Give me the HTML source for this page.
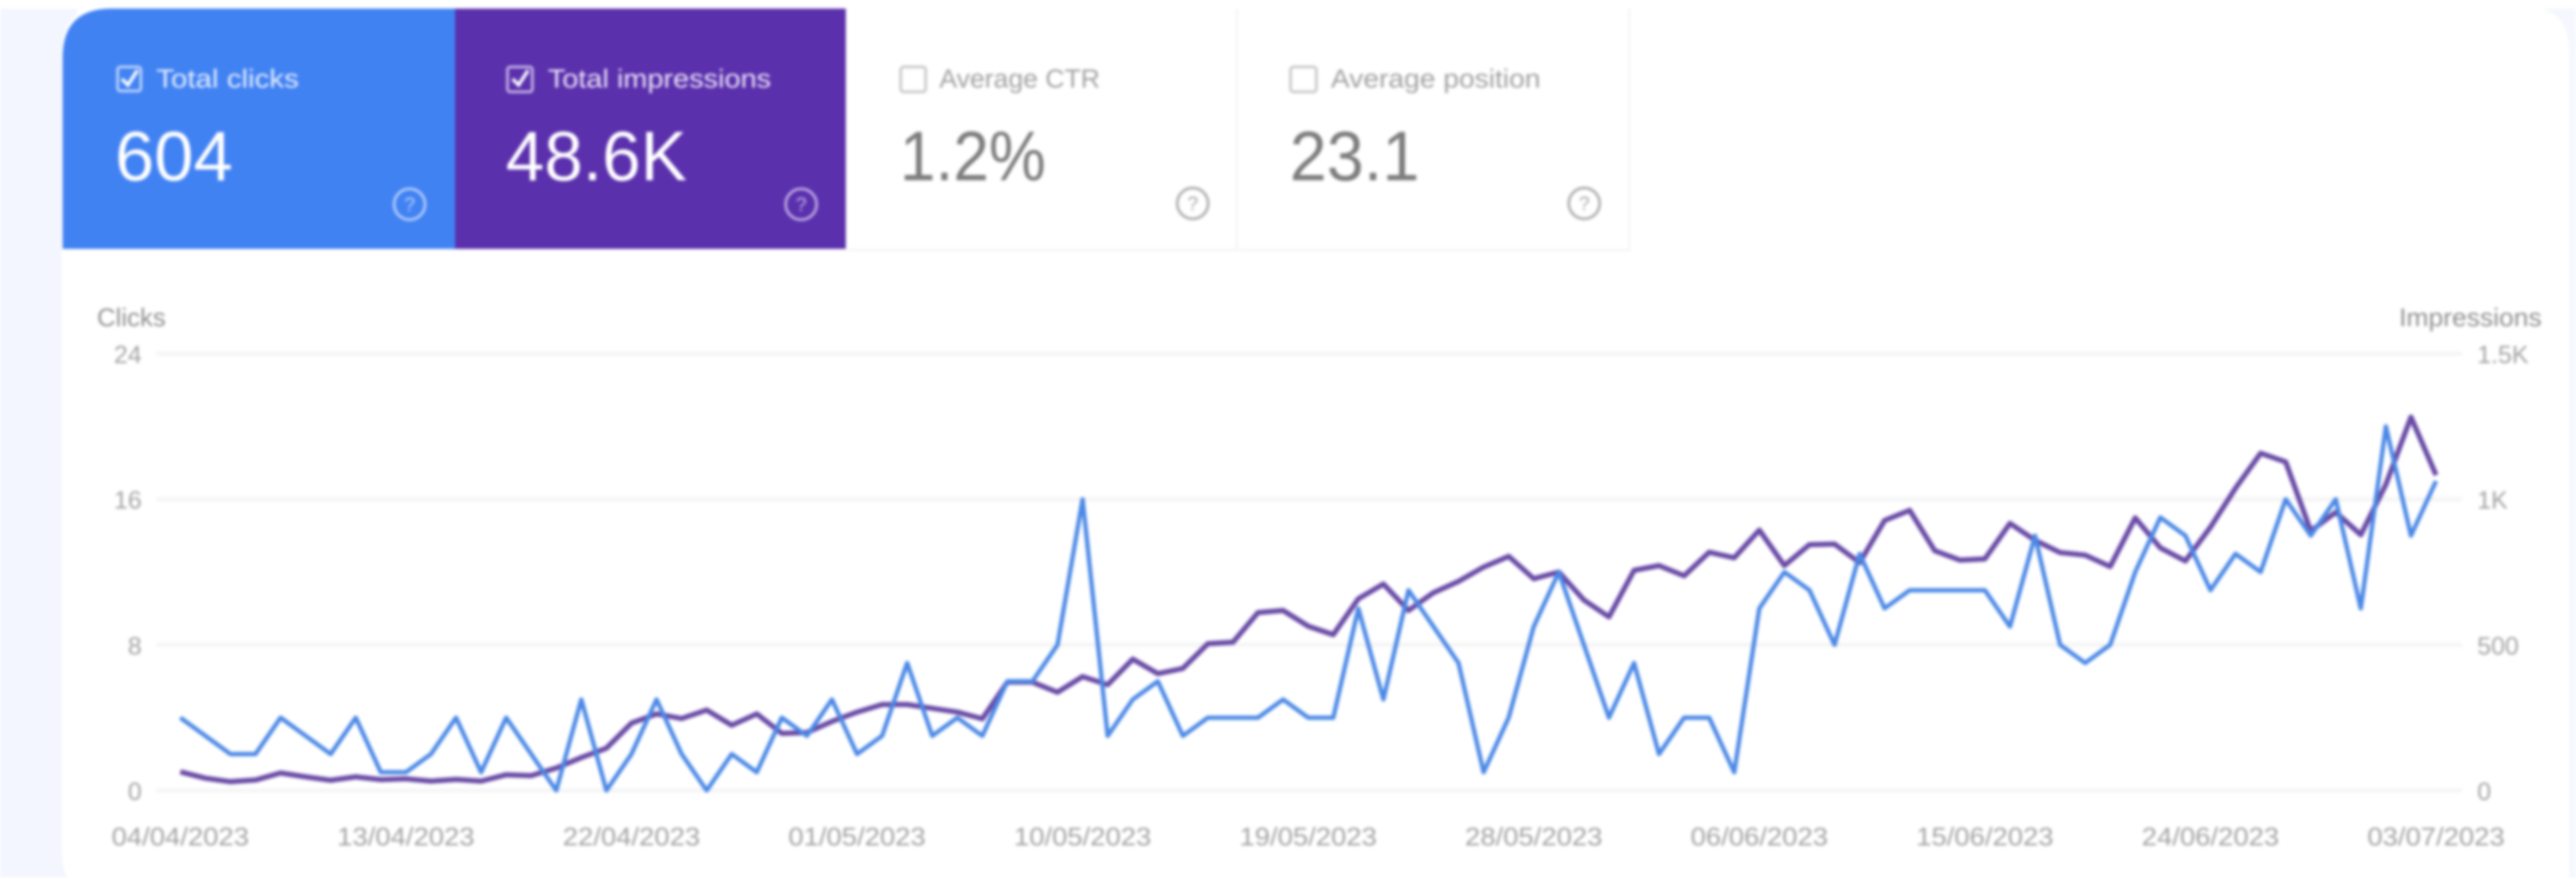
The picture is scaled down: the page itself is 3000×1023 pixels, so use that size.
<!DOCTYPE html>
<html lang="en">
<head>
<meta charset="utf-8">
<title>Search performance chart</title>
<style>
  html, body { margin: 0; padding: 0; background: #fff; }
  body { width: 3000px; height: 1023px; overflow: hidden; }
  svg { display: block; filter: blur(1.8px); font-family: "Liberation Sans", sans-serif; }
</style>
</head>
<body>
<svg id="chart" xmlns="http://www.w3.org/2000/svg" width="3000" height="1023" viewBox="0 0 3000 1023">
  <rect x="-10" y="-10" width="3020" height="1043" fill="#ffffff"/>
  <rect x="-10" y="10" width="100" height="1023" fill="#f3f6fe"/>
  <rect x="2950" y="10" width="60" height="1023" fill="#f5f7fe"/>
  <path d="M124 8 H2940 Q2992 8 2992 60 V1033 H96 Q72 1033 72 990 V60 Q72 8 124 8 Z" fill="#ffffff"/>

  <g>
    <path d="M130 10 H530 V290 H73 V67 Q73 10 130 10 Z" fill="#4182f3"/>
    <rect x="137" y="78" width="27" height="28" rx="3" fill="none" stroke="#c4d8fb" stroke-width="3"/>
    <path d="M142 92 L149 99 L160 82" fill="none" stroke="#ffffff" stroke-width="4"/>
    <text x="182" y="102" font-size="31" fill="#e6eefd" textLength="166" lengthAdjust="spacingAndGlyphs">Total clicks</text>
    <text x="134" y="210" font-size="82" fill="#ffffff" textLength="137" lengthAdjust="spacingAndGlyphs">604</text>
    <circle cx="477" cy="238" r="18" fill="none" stroke="#b9d1fb" stroke-width="3"/>
    <text x="477" y="246" font-size="23" fill="#b9d1fb" text-anchor="middle">?</text>
  </g>

  <g>
    <rect x="530" y="10" width="455" height="280" fill="#5b30ad"/>
    <rect x="591" y="78" width="29" height="29" rx="3" fill="none" stroke="#cbbbe8" stroke-width="3"/>
    <path d="M597 92 L604 99 L615 82" fill="none" stroke="#ffffff" stroke-width="4"/>
    <text x="638" y="102" font-size="31" fill="#ece6f7" textLength="260" lengthAdjust="spacingAndGlyphs">Total impressions</text>
    <text x="589" y="210" font-size="82" fill="#ffffff" textLength="211" lengthAdjust="spacingAndGlyphs">48.6K</text>
    <circle cx="933" cy="238" r="18" fill="none" stroke="#c4b2e6" stroke-width="3"/>
    <text x="933" y="246" font-size="23" fill="#c4b2e6" text-anchor="middle">?</text>
  </g>

  <g>
    <rect x="1049" y="78" width="29" height="29" rx="3" fill="none" stroke="#c6c6c6" stroke-width="3"/>
    <text x="1094" y="102" font-size="31" fill="#a0a0a0" textLength="187" lengthAdjust="spacingAndGlyphs">Average CTR</text>
    <text x="1048" y="210" font-size="82" fill="#7d7d7d" textLength="170" lengthAdjust="spacingAndGlyphs">1.2%</text>
    <circle cx="1389" cy="237" r="18" fill="none" stroke="#a9a9a9" stroke-width="3"/>
    <text x="1389" y="245" font-size="23" fill="#a9a9a9" text-anchor="middle">?</text>
    <rect x="1439" y="10" width="3" height="280" fill="#f5f5f5"/>
  </g>

  <g>
    <rect x="1503" y="78" width="30" height="29" rx="3" fill="none" stroke="#c6c6c6" stroke-width="3"/>
    <text x="1550" y="102" font-size="31" fill="#a0a0a0" textLength="244" lengthAdjust="spacingAndGlyphs">Average position</text>
    <text x="1502" y="210" font-size="82" fill="#7d7d7d" textLength="151" lengthAdjust="spacingAndGlyphs">23.1</text>
    <circle cx="1845" cy="237" r="18" fill="none" stroke="#a9a9a9" stroke-width="3"/>
    <text x="1845" y="245" font-size="23" fill="#a9a9a9" text-anchor="middle">?</text>
    <rect x="1896" y="10" width="3" height="280" fill="#f5f5f5"/>
  </g>
  <rect x="985" y="290" width="914" height="3" fill="#f6f6f6"/>

  <text x="113" y="380" font-size="30" fill="#8f8f8f">Clicks</text>
  <text x="2794" y="380" font-size="30" fill="#8f8f8f" textLength="166" lengthAdjust="spacingAndGlyphs">Impressions</text>

  <g id="grid"></g>
  <g id="axes"></g>
  <g id="series"></g>
</svg>

<script>
const categories = [
  "04/04/2023","05/04/2023","06/04/2023","07/04/2023","08/04/2023","09/04/2023","10/04/2023","11/04/2023","12/04/2023",
  "13/04/2023","14/04/2023","15/04/2023","16/04/2023","17/04/2023","18/04/2023","19/04/2023","20/04/2023","21/04/2023",
  "22/04/2023","23/04/2023","24/04/2023","25/04/2023","26/04/2023","27/04/2023","28/04/2023","29/04/2023","30/04/2023",
  "01/05/2023","02/05/2023","03/05/2023","04/05/2023","05/05/2023","06/05/2023","07/05/2023","08/05/2023","09/05/2023",
  "10/05/2023","11/05/2023","12/05/2023","13/05/2023","14/05/2023","15/05/2023","16/05/2023","17/05/2023","18/05/2023",
  "19/05/2023","20/05/2023","21/05/2023","22/05/2023","23/05/2023","24/05/2023","25/05/2023","26/05/2023","27/05/2023",
  "28/05/2023","29/05/2023","30/05/2023","31/05/2023","01/06/2023","02/06/2023","03/06/2023","04/06/2023","05/06/2023",
  "06/06/2023","07/06/2023","08/06/2023","09/06/2023","10/06/2023","11/06/2023","12/06/2023","13/06/2023","14/06/2023",
  "15/06/2023","16/06/2023","17/06/2023","18/06/2023","19/06/2023","20/06/2023","21/06/2023","22/06/2023","23/06/2023",
  "24/06/2023","25/06/2023","26/06/2023","27/06/2023","28/06/2023","29/06/2023","30/06/2023","01/07/2023","02/07/2023",
  "03/07/2023"
];
const clicks = [
  4,3,2,2,4,3,2,4,1,1,2,4,1,4,2,0,5,0,2,5,2,0,2,1,4,3,5,2,3,7,
  3,4,3,6,6,8,16,3,5,6,3,4,4,4,5,4,4,10,5,11,9,7,1,4,9,12,8,4,7,2,
  4,4,1,10,12,11,8,13,10,11,11,11,11,9,14,8,7,8,12,15,14,11,13,12,16,14,16,10,20,14,17
];
const impressions = [
  64,42,30,36,60,47,35,47,37,40,32,38,32,54,51,77,113,145,231,263,247,276,224,263,196,199,237,269,295,295,
  282,269,246,372,372,337,391,363,451,401,419,504,509,611,618,564,535,658,709,618,679,718,767,804,727,750,654,596,756,772,
  737,818,799,894,772,844,846,782,927,962,823,791,795,917,859,817,808,769,936,833,788,904,1038,1158,1128,891,955,878,1051,1282,1083
];
const clickTicks = [0, 8, 16, 24];
const impressionTicks = [0, 500, 1000, 1500];
const impressionTickLabels = ["0", "500", "1K", "1.5K"];
const xTickEvery = 9;

const NS = "http://www.w3.org/2000/svg";
const plotLeft = 210, plotRight = 2837, plotTop = 412, plotBottom = 921;
const clickMax = clickTicks[clickTicks.length - 1];
const impressionMax = impressionTicks[impressionTicks.length - 1];

function xScale(i) { return plotLeft + (plotRight - plotLeft) * i / (categories.length - 1); }
function yClicks(v) { return plotBottom - (plotBottom - plotTop) * v / clickMax; }
function yImpressions(v) { return plotBottom - (plotBottom - plotTop) * v / impressionMax; }

function make(tag, attrs, text) {
  const el = document.createElementNS(NS, tag);
  for (const k in attrs) el.setAttribute(k, attrs[k]);
  if (text !== undefined) el.textContent = text;
  return el;
}

const grid = document.getElementById("grid");
const axes = document.getElementById("axes");
const series = document.getElementById("series");

clickTicks.forEach(function (t) {
  const y = yClicks(t);
  const line = make("line", { x1: 182, x2: 2867, y1: y, y2: y, stroke: "#f5f5f5", "stroke-width": 5 });
  
  
  grid.appendChild(line);
  const label = make("text", { x: 165, y: y + 11, "font-size": 29, fill: "#a2a2a2", "text-anchor": "end" }, String(t));
  
  
  axes.appendChild(label);
});

impressionTicks.forEach(function (t, i) {
  const label = make("text", { x: 2885, y: yImpressions(t) + 11, "font-size": 29, fill: "#a2a2a2" }, impressionTickLabels[i]);
  
  
  axes.appendChild(label);
});

categories.forEach(function (d, i) {
  if (i % xTickEvery !== 0) return;
  const label = make("text", { x: xScale(i), y: 985, "font-size": 30, fill: "#a2a2a2", "text-anchor": "middle", textLength: 160, lengthAdjust: "spacingAndGlyphs" }, d);
  
  
  axes.appendChild(label);
});

function linePoints(values, yFn) {
  return values.map(function (v, i) { return xScale(i).toFixed(1) + "," + yFn(v).toFixed(1); }).join(" ");
}

const impressionsLine = make("polyline", { points: linePoints(impressions, yImpressions), fill: "none", stroke: "#694aa6", "stroke-width": 6, "stroke-linejoin": "round" });


series.appendChild(impressionsLine);

const clicksLine = make("polyline", { points: linePoints(clicks, yClicks), fill: "none", stroke: "#4a88e6", "stroke-width": 5, "stroke-linejoin": "round" });


series.appendChild(clicksLine);
</script>
</body>
</html>
